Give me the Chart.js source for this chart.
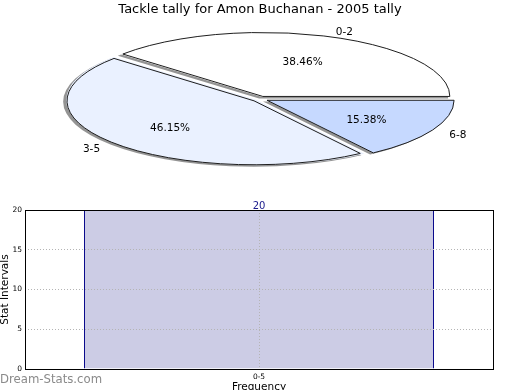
<!DOCTYPE html>
<html lang="en">
<head>
<meta charset="UTF-8">
<title>Tackle tally for Amon Buchanan - 2005 tally</title>
<script src="https://cdn.jsdelivr.net/npm/chart.js"></script>
<style>
  html, body { margin: 0; padding: 0; background: #fff; overflow: hidden; }
  #wrap { position: relative; width: 520px; height: 390px; }
  #pieBox { position: absolute; left: 0; top: 0; width: 520px; height: 195px; }
  #barBox { position: absolute; left: 0; top: 195px; width: 520px; height: 205px; }
  #mark { position: absolute; left: 0; top: 371px; font: 13px 'DejaVu Sans Condensed', 'DejaVu Sans'; color: #8a8a8a; }
</style>
</head>
<body>
<div id="wrap">
  <div id="pieBox"><canvas id="pieChart"></canvas></div>
  <div id="barBox"><canvas id="barChart"></canvas></div>
  <div id="mark">Dream-Stats.com</div>
</div>
<script>
// data
const chartTitle = 'Tackle tally for Amon Buchanan - 2005 tally';
const pieLabels = ['0-2', '3-5', '6-8'];
const pieValues = [38.46, 46.15, 15.38];
const pieColors = ['#ffffff', '#eaf1ff', '#c6d9ff'];
const barLabels = ['0-5'];
const barValues = [20];
const yMax = 20;
const yStep = 5;

Chart.defaults.font.family = "'DejaVu Sans', sans-serif";
Chart.defaults.color = '#000';

// pie is drawn squashed into an ellipse, like the original
const pieCX = 260, pieCY = 99, squash = 0.342, explode = 8;

// chart.js draws clockwise, matplotlib counter-clockwise -> reverse the order
const pieOrderLabels = pieLabels.slice().reverse();
const pieOrderValues = pieValues.slice().reverse();
const pieOrderColors = pieColors.slice().reverse();
const pieTotal = pieOrderValues.reduce((a, b) => a + b, 0);
// arc offset in chart.js is offset/4*(1+fix); undo that so every slice moves the same distance
const pieOffsets = pieOrderValues.map(v => {
    const c = v / pieTotal * 2 * Math.PI;
    return 4 * explode / (2 - Math.sin(Math.min(Math.PI, c)));
});

function arcShift(a) {
    const fix = 1 - Math.sin(Math.min(Math.PI, a.circumference));
    return (a.options.offset / 4) * (1 + fix);
}
function squashCtx(ctx, a) {
    ctx.translate(pieCX, pieCY);
    ctx.scale(1, squash);
    ctx.translate(-a.x, -a.y);
}
function toPage(a, x, y) {
    return [pieCX + (x - a.x), pieCY + (y - a.y) * squash];
}

const squashPlugin = {
    id: 'squash',
    beforeDatasetsDraw(chart) {
        const ctx = chart.ctx;
        const a = chart.getDatasetMeta(0).data[0];
        ctx.save();
        squashCtx(ctx, a);
        ctx.shadowColor = 'rgba(60,60,60,0.55)';
        ctx.shadowOffsetX = -3;
        ctx.shadowOffsetY = 1.5;
        ctx.shadowBlur = 0;
    },
    afterDatasetsDraw(chart) {
        const ctx = chart.ctx;
        ctx.restore();
        const arcs = chart.getDatasetMeta(0).data;
        arcs.forEach((a, i) => {
            const d = arcShift(a);
            const mid = (a.startAngle + a.endAngle) / 2;
            const ox = a.x + Math.cos(mid) * d;
            const oy = a.y + Math.sin(mid) * d;
            const r = a.outerRadius;
            // outline with an even 1px line
            ctx.save();
            squashCtx(ctx, a);
            ctx.beginPath();
            ctx.moveTo(ox, oy);
            ctx.arc(ox, oy, r, a.startAngle, a.endAngle);
            ctx.closePath();
            ctx.restore();
            ctx.save();
            ctx.lineWidth = 1;
            ctx.strokeStyle = '#1e1e1e';
            ctx.stroke();
            // texts
            ctx.fillStyle = '#000';
            ctx.font = "10.5px 'DejaVu Sans'";
            ctx.textBaseline = 'middle';
            const pct = toPage(a, ox + Math.cos(mid) * r * 0.6, oy + Math.sin(mid) * r * 0.6);
            ctx.textAlign = 'center';
            ctx.fillText(chart.data.datasets[0].data[i].toFixed(2) + '%', pct[0], pct[1] + 2);
            const lab = toPage(a, ox + Math.cos(mid) * r * 1.1, oy + Math.sin(mid) * r * 1.1);
            ctx.textAlign = Math.cos(mid) > 0 ? 'left' : 'right';
            ctx.fillText(chart.data.labels[i], lab[0], lab[1] + 2);
            ctx.restore();
        });
    }
};

new Chart(document.getElementById('pieChart'), {
    type: 'pie',
    data: {
        labels: pieOrderLabels,
        datasets: [{
            data: pieOrderValues,
            backgroundColor: pieOrderColors,
            borderWidth: 0,
            offset: pieOffsets,
            clip: 400
        }]
    },
    options: {
        responsive: true,
        maintainAspectRatio: false,
        animation: false,
        events: [],
        rotation: 90,
        radius: 187,
        plugins: {
            legend: { display: false },
            tooltip: { enabled: false },
            title: {
                display: true,
                text: chartTitle,
                color: '#000',
                font: { size: 13, weight: 'normal', lineHeight: 1.2 },
                padding: { top: 2, bottom: 0 }
            }
        }
    },
    plugins: [squashPlugin]
});

const frameAndLabel = {
    id: 'frameAndLabel',
    afterDatasetsDraw(chart) {
        const ctx = chart.ctx;
        ctx.save();
        ctx.fillStyle = '#1a1a8c';
        ctx.font = "10px 'DejaVu Sans'";
        ctx.textAlign = 'center';
        ctx.textBaseline = 'middle';
        chart.getDatasetMeta(0).data.forEach((bar, i) => {
            ctx.fillText(String(chart.data.datasets[0].data[i]), bar.x, bar.y - 4);
        });
        ctx.restore();
    },
    afterDraw(chart) {
        const ctx = chart.ctx;
        const a = chart.chartArea;
        ctx.save();
        ctx.strokeStyle = '#000';
        ctx.lineWidth = 1;
        ctx.strokeRect(Math.round(a.left) + 0.5, Math.round(a.top) + 0.5,
            Math.round(a.right - a.left), Math.round(a.bottom - a.top));
        ctx.restore();
    }
};

const gridStyle = { color: '#b4b4b4', lineWidth: 1, drawTicks: false, z: 1 };

new Chart(document.getElementById('barChart'), {
    type: 'bar',
    data: {
        labels: barLabels,
        datasets: [{
            data: barValues,
            backgroundColor: '#ccccE5',
            borderColor: '#0a0a8c',
            borderWidth: 1,
            borderSkipped: 'bottom',
            barPercentage: 350 / 468,
            categoryPercentage: 1
        }]
    },
    options: {
        responsive: true,
        maintainAspectRatio: false,
        animation: false,
        events: [],
        layout: { padding: { top: 15, right: 27, left: 0, bottom: 0 } },
        plugins: {
            legend: { display: false },
            tooltip: { enabled: false }
        },
        scales: {
            x: {
                z: 1,
                grid: Object.assign({ offset: false }, gridStyle),
                border: { display: false, dash: [1, 2] },
                ticks: { font: { size: 7.5 }, color: '#000', padding: 4 },
                title: {
                    display: true, text: 'Frequency', color: '#000',
                    font: { size: 10.5, lineHeight: 1.2 },
                    padding: { top: 0, bottom: 6 }
                },
                afterFit(s) { s.height = 31; }
            },
            y: {
                z: 1,
                min: 0,
                max: yMax,
                grid: gridStyle,
                border: { display: false, dash: [1, 2] },
                ticks: { stepSize: yStep, font: { size: 7.5 }, color: '#000', padding: 3 },
                title: {
                    display: true, text: 'Stat Intervals', color: '#000',
                    font: { size: 10.5, lineHeight: 1 },
                    padding: 0
                },
                afterFit(s) { s.width = 25; }
            }
        }
    },
    plugins: [frameAndLabel]
});
</script>
</body>
</html>
